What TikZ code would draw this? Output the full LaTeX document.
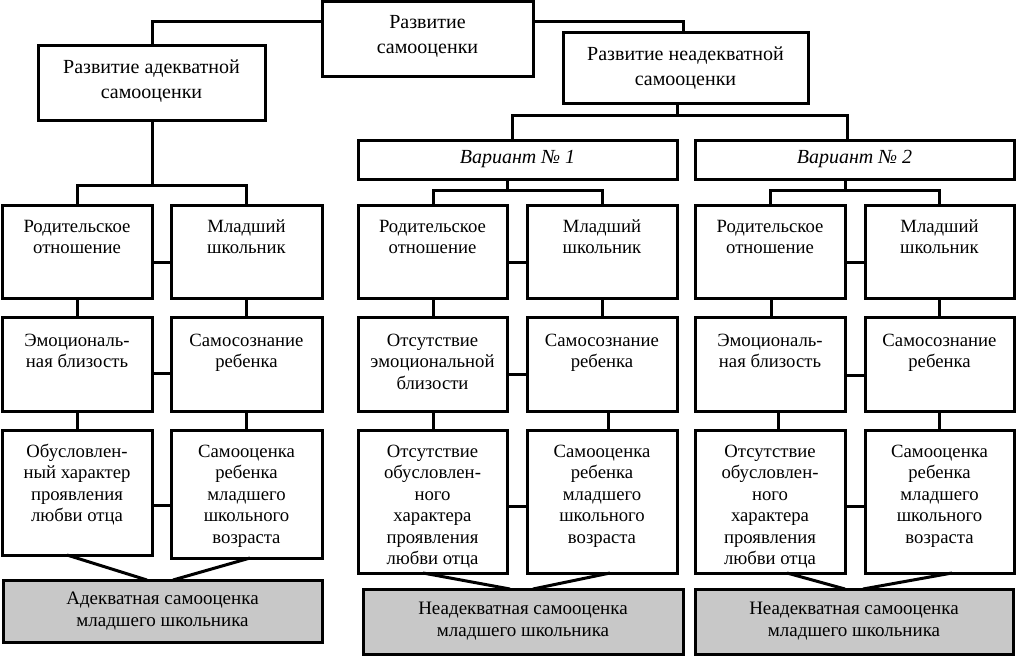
\documentclass[tikz,border=0pt]{standalone}
\usepackage{fontspec}
\setmainfont{Liberation Serif}
\definecolor{greyfill}{RGB}{200,200,200}
\tikzset{
 box/.style={draw, line width=3pt, inner sep=0pt, outer sep=0pt},
 txt/.style={font=\fontsize{18.7}{21.5}\selectfont, align=center, inner sep=0pt},
 toptxt/.style={font=\fontsize{20}{25}\selectfont, align=center, inner sep=0pt},
 greytxt/.style={font=\fontsize{19}{22}\selectfont, align=center},
 vartxt/.style={font=\fontsize{20}{22}\selectfont\itshape, align=center},
 link/.style={line width=3pt},
}
% name, x1, y1, x2, y2, style, text
\newcommand\mybox[7]{\node[box,#6, minimum width={#4-#2}, minimum height={#5-#3}] (#1) at ({(#2+#4)/2},{(#3+#5)/2}) {#7};}
% name, box, first-baseline offset, style, text
\newcommand\mytx[5]{\node[#4, anchor=north] (#1) at ([yshift={(15-#3)*1pt}]#2.north) {\rule{0pt}{15pt}#5};}
\begin{document}
\begin{tikzpicture}[x=1pt,y=-1pt]
\useasboundingbox (0,0) rectangle (1016,656);
% top level
\mybox{T}{322}{1.5}{533}{76}{}{}
\mybox{L1}{38}{45}{265}{120}{}{}
\mybox{R1}{563}{32}{808}{103}{}{}
\mytx{tT}{T}{26.5}{toptxt}{Развитие\\самооценки}
\mytx{tL1}{L1}{28}{toptxt}{Развитие адекватной\\самооценки}
\mytx{tR1}{R1}{28}{toptxt}{Развитие неадекватной\\самооценки}
\mybox{V1}{358}{140}{677}{179}{vartxt}{Вариант № 1}
\mybox{V2}{695}{140}{1014}{179}{vartxt}{Вариант № 2}
% left group
\mybox{A1}{2}{205}{152}{298}{}{}
\mybox{B1}{171}{205}{322}{298}{}{}
\mybox{A2}{2}{317}{152}{411}{}{}
\mybox{B2}{171}{317}{322}{411}{}{}
\mybox{A3}{2}{430}{152}{555}{}{}
\mybox{B3}{171}{430}{322}{558}{}{}
\mybox{G1}{3}{580}{322}{642}{fill=greyfill,greytxt}{Адекватная самооценка\\младшего школьника}
\mytx{tA1}{A1}{27}{txt}{Родительское\\отношение}
\mytx{tB1}{B1}{27}{txt}{Младший\\школьник}
\mytx{tA2}{A2}{29}{txt}{Эмоциональ-\\ная близость}
\mytx{tB2}{B2}{29}{txt}{Самосознание\\ребенка}
\mytx{tA3}{A3}{27}{txt}{Обусловлен-\\ный характер\\проявления\\любви отца}
\mytx{tB3}{B3}{27}{txt}{Самооценка\\ребенка\\младшего\\школьного\\возраста}
% middle group
\mybox{C1}{358}{205}{507}{298}{}{}
\mybox{D1}{527}{205}{677}{298}{}{}
\mybox{C2}{358}{317}{507}{411}{}{}
\mybox{D2}{527}{317}{677}{411}{}{}
\mybox{C3}{358}{430}{507}{573}{}{}
\mybox{D3}{527}{430}{677}{573}{}{}
\mybox{G2}{363}{589}{683}{654}{fill=greyfill,greytxt}{Неадекватная самооценка\\младшего школьника}
\mytx{tC1}{C1}{27}{txt}{Родительское\\отношение}
\mytx{tD1}{D1}{27}{txt}{Младший\\школьник}
\mytx{tC2}{C2}{29}{txt}{Отсутствие\\эмоциональной\\близости}
\mytx{tD2}{D2}{29}{txt}{Самосознание\\ребенка}
\mytx{tC3}{C3}{27}{txt}{Отсутствие\\обусловлен-\\ного\\характера\\проявления\\любви отца}
\mytx{tD3}{D3}{27}{txt}{Самооценка\\ребенка\\младшего\\школьного\\возраста}
% right group
\mybox{E1}{695}{205}{845}{298}{}{}
\mybox{F1}{865}{205}{1014}{298}{}{}
\mybox{E2}{695}{317}{845}{411}{}{}
\mybox{F2}{865}{317}{1014}{411}{}{}
\mybox{E3}{695}{430}{845}{573}{}{}
\mybox{F3}{865}{430}{1014}{573}{}{}
\mybox{G3}{695}{589}{1013}{654}{fill=greyfill,greytxt}{Неадекватная самооценка\\младшего школьника}
\mytx{tE1}{E1}{27}{txt}{Родительское\\отношение}
\mytx{tF1}{F1}{27}{txt}{Младший\\школьник}
\mytx{tE2}{E2}{29}{txt}{Эмоциональ-\\ная близость}
\mytx{tF2}{F2}{29}{txt}{Самосознание\\ребенка}
\mytx{tE3}{E3}{27}{txt}{Отсутствие\\обусловлен-\\ного\\характера\\проявления\\любви отца}
\mytx{tF3}{F3}{27}{txt}{Самооценка\\ребенка\\младшего\\школьного\\возраста}
% top connectors
\draw[link] (T.west |- 0,21) -| (L1.north -| 152,0);
\draw[link] (T.east |- 0,21) -| (R1.north -| 683,0);
\draw[link] (R1.south -| 677,0) -- (677,115);
\draw[link] (V1.north -| 512,0) -- (512,115) -- (847,115) -- (V2.north -| 847,0);
% left group connectors
\draw[link] (L1.south -| 152,0) -- (152,185);
\draw[link] (A1.north -| 77,0) -- (77,185) -- (246,185) -- (B1.north -| 246,0);
\draw[link] (A1.east |- 0,262) -- (B1.west |- 0,262);
\draw[link] (A2.east |- 0,373) -- (B2.west |- 0,373);
\draw[link] (A3.east |- 0,505) -- (B3.west |- 0,505);
\draw[link] (A1.south -| 77,0) -- (A2.north -| 77,0);
\draw[link] (B1.south -| 246,0) -- (B2.north -| 246,0);
\draw[link] (A2.south -| 77,0) -- (A3.north -| 77,0);
\draw[link] (B2.south -| 246,0) -- (B3.north -| 246,0);
\draw[link] (A3.south -| 67,0) -- (G1.north -| 147,0);
\draw[link] (B3.south -| 250,0) -- (G1.north -| 173,0);
% middle group connectors
\draw[link] (V1.south -| 507,0) -- (507,190);
\draw[link] (C1.north -| 433,0) -- (433,190) -- (602,190) -- (D1.north -| 602,0);
\draw[link] (C1.east |- 0,262) -- (D1.west |- 0,262);
\draw[link] (C2.east |- 0,374) -- (D2.west |- 0,374);
\draw[link] (C3.east |- 0,506) -- (D3.west |- 0,506);
\draw[link] (C1.south -| 433,0) -- (C2.north -| 433,0);
\draw[link] (D1.south -| 602,0) -- (D2.north -| 602,0);
\draw[link] (C2.south -| 433,0) -- (C3.north -| 433,0);
\draw[link] (D2.south -| 608,0) -- (D3.north -| 608,0);
\draw[link] (C3.south -| 423,0) -- (G2.north -| 510,0);
\draw[link] (D3.south -| 610,0) -- (G2.north -| 533,0);
% right group connectors
\draw[link] (V2.south -| 845,0) -- (845,190);
\draw[link] (E1.north -| 770,0) -- (770,190) -- (939,190) -- (F1.north -| 939,0);
\draw[link] (E1.east |- 0,262) -- (F1.west |- 0,262);
\draw[link] (E2.east |- 0,375) -- (F2.west |- 0,375);
\draw[link] (E3.east |- 0,506) -- (F3.west |- 0,506);
\draw[link] (E1.south -| 771,0) -- (E2.north -| 771,0);
\draw[link] (F1.south -| 939,0) -- (F2.north -| 939,0);
\draw[link] (E2.south -| 778,0) -- (E3.north -| 778,0);
\draw[link] (F2.south -| 939,0) -- (F3.north -| 939,0);
\draw[link] (E3.south -| 787,0) -- (G3.north -| 845,0);
\draw[link] (F3.south -| 952,0) -- (G3.north -| 863,0);
\end{tikzpicture}
\end{document}
